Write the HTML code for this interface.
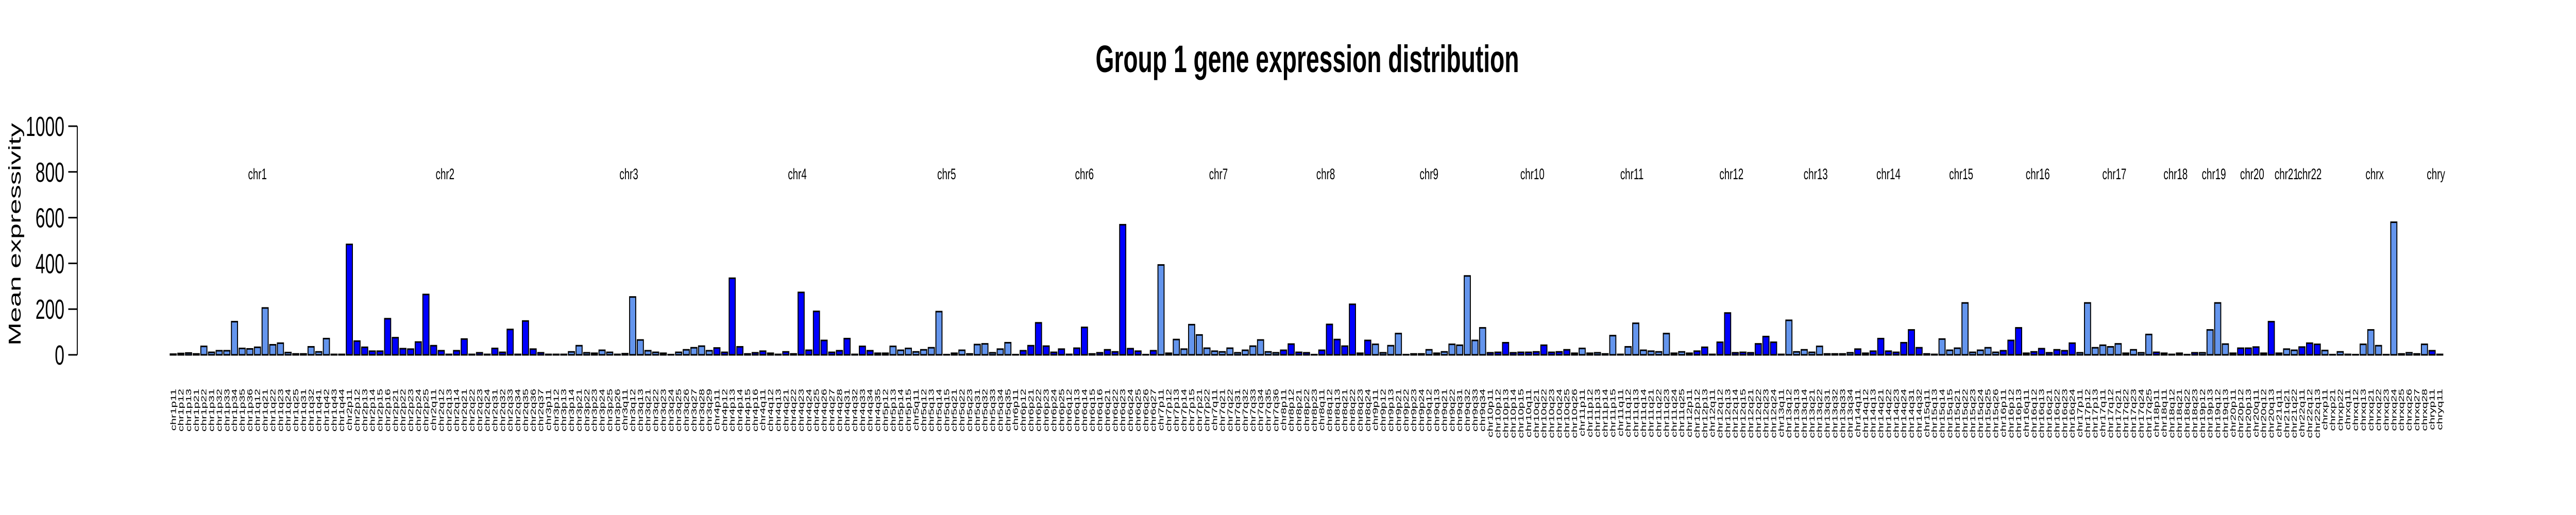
<!DOCTYPE html>
<html><head><meta charset="utf-8"><style>
html,body{margin:0;padding:0;background:#fff;width:100%;height:100%;overflow:hidden}
svg{display:block;width:100vw;height:100vh;font-family:"Liberation Sans",Arial,sans-serif}
</style></head><body>
<svg id="chart" viewBox="0 0 8000 1000" preserveAspectRatio="none" xmlns="http://www.w3.org/2000/svg">
<text x="4060" y="140" text-anchor="middle" font-size="74" font-weight="bold">Group 1 gene expression distribution</text>
<text transform="translate(64,455) rotate(-90)" text-anchor="middle" font-size="54">Mean expressivity</text>
<g id="yaxis"></g>
<g id="bars"></g>
<g id="xlabels"></g>
<g id="chrlabels"></g>
</svg>
<script>
const chromosomes = ["chr1","chr2","chr3","chr4","chr5","chr6","chr7","chr8","chr9","chr10","chr11","chr12","chr13","chr14","chr15","chr16","chr17","chr18","chr19","chr20","chr21","chr22","chrx","chry"];
const bandsPerChr = [
["p11","p12","p13","p21","p22","p31","p32","p33","p34","p35","p36","q12","q21","q22","q23","q24","q25","q31","q32","q41","q42","q43","q44"],
["p11","p12","p13","p14","p15","p16","p21","p22","p23","p24","p25","q11","q12","q13","q14","q21","q22","q23","q24","q31","q32","q33","q34","q35","q36","q37"],
["p11","p12","p13","p14","p21","p22","p23","p24","p25","p26","q11","q12","q13","q21","q22","q23","q24","q25","q26","q27","q28","q29"],
["p11","p12","p13","p14","p15","p16","q11","q12","q13","q21","q22","q23","q24","q25","q26","q27","q28","q31","q32","q33","q34","q35"],
["p12","p13","p14","p15","q11","q12","q13","q14","q15","q21","q22","q23","q31","q32","q33","q34","q35"],
["p11","p12","p21","p22","p23","p24","p25","q12","q13","q14","q15","q16","q21","q22","q23","q24","q25","q26","q27"],
["p11","p12","p13","p14","p15","p21","p22","q11","q21","q22","q31","q32","q33","q34","q35","q36"],
["p11","p12","p21","p22","p23","q11","q12","q13","q21","q22","q23","q24"],
["p11","p12","p13","p21","p22","p23","p24","q12","q13","q21","q22","q31","q32","q33","q34"],
["p11","p12","p13","p14","p15","q11","q21","q22","q23","q24","q25","q26"],
["p11","p12","p13","p14","p15","q11","q12","q13","q14","q21","q22","q23","q24","q25"],
["p11","p12","p13","q11","q12","q13","q14","q15","q21","q22","q23","q24"],
["q11","q12","q13","q14","q21","q22","q31","q32","q33","q34"],
["q11","q12","q13","q21","q22","q23","q24","q31","q32"],
["q11","q13","q14","q15","q21","q22","q23","q24","q25","q26"],
["p11","p12","p13","q11","q12","q13","q21","q22","q23","q24"],
["p11","p12","p13","q11","q12","q21","q22","q23","q24","q25"],
["p11","q11","q12","q21","q22","q23"],
["p12","p13","q12","q13"],
["p11","p12","p13","q11","q12","q13"],
["q11","q21","q22"],
["q11","q12","q13"],
["p11","p21","p22","q11","q12","q13","q21","q22","q23","q24","q25","q26","q27","q28"],
["p11","q11"]
];
const values = [
3,6,8,4,37,11,18,18,145,28,26,33,205,44,51,10,4,4,35,13,71,2,2,
483,60,33,16,16,158,75,27,25,56,264,40,18,2,18,69,2,9,2,28,11,111,2,148,25,9,
2,2,2,13,40,9,7,20,11,2,5,253,65,18,11,7,1,11,22,31,38,18,
30,11,335,35,4,9,16,7,2,13,4,273,20,190,63,11,18,71,2,37,18,7,
7,37,20,28,13,22,31,189,1,7,20,4,45,48,9,25,53,
1,18,40,140,38,11,25,2,29,120,4,9,22,13,569,27,16,1,18,
393,7,67,25,132,87,29,16,13,29,9,20,38,65,13,9,
20,47,11,9,1,20,133,67,38,221,7,63,
46,9,40,93,1,4,4,22,7,13,46,42,345,63,118,
9,11,53,9,11,11,13,42,11,13,22,7,
28,7,9,4,84,2,35,138,20,16,13,93,7,13,
7,16,33,2,55,183,9,11,9,48,80,55,
2,151,13,22,11,37,4,4,4,9,
25,7,16,71,16,11,53,109,31,
4,2,69,20,29,227,11,20,31,11,
18,63,118,7,13,27,9,22,18,51,
9,227,31,42,35,48,7,22,9,89,
11,7,2,7,1,9,
9,109,227,47,
7,29,29,34,7,145,
7,25,20,
34,51,46,
19,1,13,2,1,46,109,40,1,580,4,9,4,46,
18,2
];
const yTicks = [0,200,400,600,800,1000];
const colors = ["#6495ED","#0000FF"];

const NS = "http://www.w3.org/2000/svg";
const X0 = 527, STEP = 23.78, BW = 19;
const Y0 = 689, YPX = 444/1000;
const yScale = v => Y0 - v*YPX;
const xScale = i => X0 + i*STEP;

function mk(tag, attrs, parent){
  const e = document.createElementNS(NS, tag);
  for (const k in attrs) e.setAttribute(k, attrs[k]);
  parent.appendChild(e);
  return e;
}

const ya = document.getElementById('yaxis');
const axl = mk('line',{x1:240,x2:240,y1:yScale(1000),y2:yScale(0),stroke:'#000','stroke-width':3},ya);


yTicks.forEach(t=>{
  const tl = mk('line',{x1:212,x2:240,y1:yScale(t),y2:yScale(t),stroke:'#000','stroke-width':3},ya);
  
  
  const tx = mk('text',{x:200,y:yScale(t)+19,'text-anchor':'end','font-size':54},ya);
  
  
  tx.textContent = t;
});

const bg = document.getElementById('bars');
const xl = document.getElementById('xlabels');
const cl = document.getElementById('chrlabels');
let idx = 0;
chromosomes.forEach((chr,ci)=>{
  const start = idx;
  bandsPerChr[ci].forEach(b=>{
    const name = chr + b;
    const v = values[idx];
    const x = xScale(idx);
    const r = mk('rect',{x:x+1.5,y:yScale(v),width:BW,height:Math.max(0,Y0-yScale(v)),fill:colors[ci%2],stroke:'#000','stroke-width':3},bg);
    
    
    const t = mk('text',{transform:'translate('+(x+11+8)+',755) rotate(-90)','text-anchor':'end','font-size':23},xl);
    
    
    t.textContent = name;
    idx++;
  });
  const cx = (xScale(start) + xScale(idx-1))/2 + 11;
  const c = mk('text',{x:cx,y:348,'text-anchor':'middle','font-size':30},cl);
  
  
  c.textContent = chr;
});
</script>
</body></html>
